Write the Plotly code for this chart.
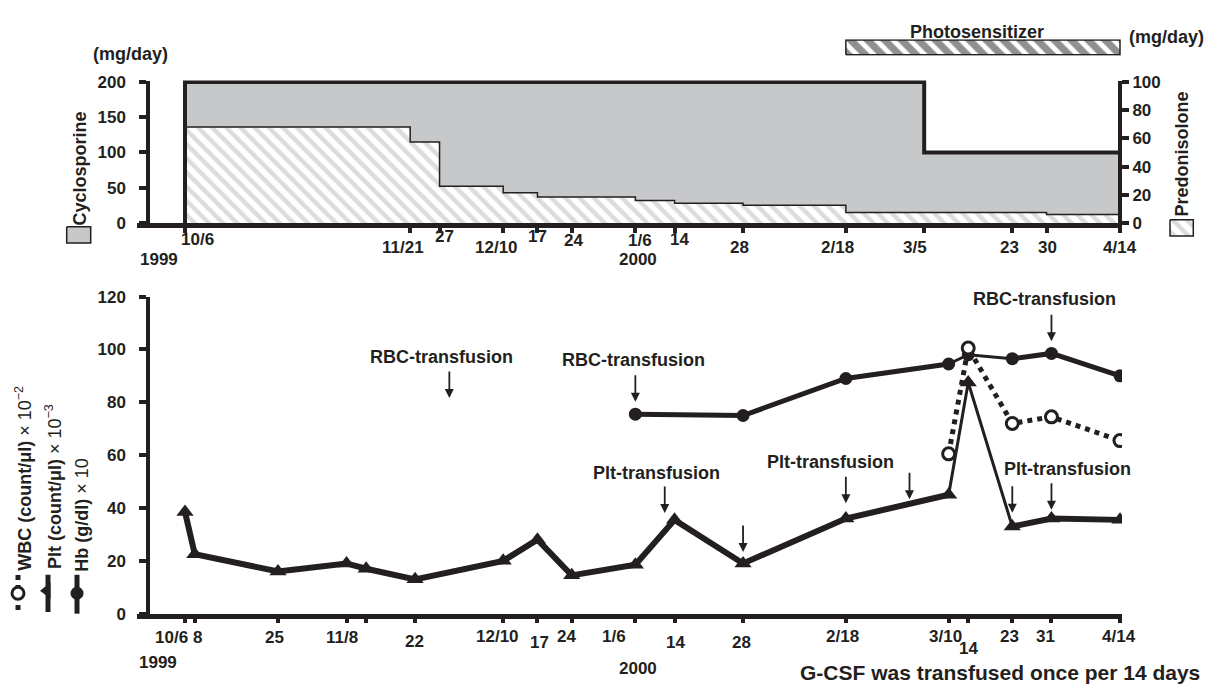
import plotly.graph_objects as go

W, H = 1212, 694
INK = "#231f20"
GRAY = "#c7c8ca"
FAM = "Liberation Sans"

# ---------------- data ----------------
# top panel: daily doses (step changes)
cyclo_start = ["1999-10-06", "2000-03-05"]
cyclo_dose = [200, 100]                     # Cyclosporine, mg/day (left axis)
predo_start = ["1999-10-06", "1999-11-21", "1999-11-27", "1999-12-10", "1999-12-17",
               "2000-01-06", "2000-01-14", "2000-01-28", "2000-02-18", "2000-03-30"]
predo_dose = [68, 57.5, 26, 21.5, 18.5, 16, 14, 12.5, 7.5, 6]   # Predonisolone, mg/day (right axis)
treat_end = "2000-04-14"
photo_start = "2000-02-18"
photo_end = "2000-04-14"

top_ticks = ["1999-10-06", "1999-11-21", "1999-11-27", "1999-12-10", "1999-12-17", "1999-12-24",
             "2000-01-06", "2000-01-14", "2000-01-28", "2000-02-18", "2000-03-05", "2000-03-23",
             "2000-03-30", "2000-04-14"]
top_labels = ["10/6", "11/21", "27", "12/10", "17", "24", "1/6", "14", "28", "2/18", "3/5", "23", "30", "4/14"]

# bottom panel: blood counts
plt_dates = ["1999-10-06", "1999-10-08", "1999-10-25", "1999-11-08", "1999-11-12", "1999-11-22",
             "1999-12-10", "1999-12-17", "1999-12-24", "2000-01-06", "2000-01-14", "2000-01-28",
             "2000-02-18", "2000-03-10", "2000-03-14", "2000-03-23", "2000-03-31", "2000-04-14"]
plt_vals = [38.5, 22.5, 16, 19, 17, 13, 20, 28, 14.5, 18.5, 35.5, 19, 36, 45, 87.5, 33, 36, 35.5]

hb_dates = ["2000-01-06", "2000-01-28", "2000-02-18", "2000-03-10", "2000-03-14", "2000-03-23",
            "2000-03-31", "2000-04-14"]
hb_vals = [75.5, 75, 89, 94.5, 98, 96.5, 98.5, 90]

wbc_dates = ["2000-03-10", "2000-03-14", "2000-03-23", "2000-03-31", "2000-04-14"]
wbc_vals = [60.5, 100.5, 72, 74.5, 65.5]

bottom_ticks = ["1999-10-06", "1999-10-08", "1999-10-25", "1999-11-08", "1999-11-12", "1999-11-22",
                "1999-12-10", "1999-12-17", "1999-12-24", "2000-01-06", "2000-01-14", "2000-01-28",
                "2000-02-18", "2000-03-10", "2000-03-14", "2000-03-23", "2000-03-31", "2000-04-14"]
bottom_labels = ["10/6", "8", "25", "11/8", "", "22", "12/10", "17", "24", "1/6", "14", "28",
                 "2/18", "3/10", "14", "23", "31", "4/14"]

# transfusion events (arrow date, level the arrow points to)
rbc_dates = ["1999-11-29", "2000-01-06", "2000-03-31"]
rbc_levels = [81.6, 80.2, 103.1]
plt_tf_dates = ["2000-01-12", "2000-01-28", "2000-02-18", "2000-03-02", "2000-03-23", "2000-03-31"]
plt_tf_levels = [38.1, 23.3, 41.8, 43.3, 38.2, 39.3]

# ---------------- layout helpers (positions, not data) ----------------
def pyf(p):  # pixel row -> paper fraction
    return 1 - p / H

def pxf(p):
    return p / W

XR = ["1999-09-26 04:40", "2000-04-14 09:50"]
XDOM = [pxf(137), pxf(1122)]
TOP_BOT, TOP_TOP = 220.0, 75.0 - 2 * 0.725
BOT_BOT, BOT_TOP = 621.7, 295.7

top_label_pos = [(12, 237.4), (-7, 245.3), (5, 234), (-7, 245.3), (0, 234), (2, 238.4), (5, 238.4),
                 (5, 237.5), (-4, 245), (-8, 245), (-9, 245), (-3, 245), (1, 245), (0, 245)]
bottom_label_pos = [(-14, 645.7), (3, 645.7), (-4, 645.7), (-5, 645.7), (0, 645), (-1, 650), (-6, 645),
                    (2, 651), (-5, 645), (-21, 645), (1, 651), (-2, 651), (-3, 645), (-3, 645),
                    (0, 657.7), (-3, 645), (-6, 645), (-1, 645)]


def steps(starts, vals, end):
    xs, ys = [starts[0]], [0]
    for i, (s, v) in enumerate(zip(starts, vals)):
        e = starts[i + 1] if i + 1 < len(starts) else end
        xs += [s, e]
        ys += [v, v]
    return xs, ys


fig = go.Figure()

PREDO_PAT = dict(shape="\\", fgcolor="#b9b9b9", bgcolor="white", size=10, solidity=0.45)

# ---- top panel ----
cx, cy = steps(cyclo_start, cyclo_dose, treat_end)
px_, py_ = steps(predo_start, predo_dose, treat_end)

fig.add_trace(go.Scatter(x=cx, y=cy, mode="lines", line=dict(width=0, color=GRAY), fill="tozeroy",
                         fillcolor=GRAY, xaxis="x", yaxis="y", hoverinfo="skip"))
fig.add_trace(go.Scatter(x=px_, y=py_, mode="lines", line=dict(color=INK, width=1.5), fill="tozeroy",
                         fillpattern=PREDO_PAT, xaxis="x", yaxis="y2", hoverinfo="skip"))
fig.add_trace(go.Scatter(x=cx, y=cy, mode="lines", line=dict(color=INK, width=4),
                         xaxis="x", yaxis="y6", hoverinfo="skip"))

# photosensitizer bar
fig.add_trace(go.Scatter(x=[photo_start, photo_end, photo_end, photo_start, photo_start],
                         y=[0, 0, 1, 1, 0], mode="lines", line=dict(color=INK, width=1.5),
                         fill="toself", fillpattern=dict(shape="\\", fgcolor=INK, bgcolor="white", size=12, solidity=0.6),
                         xaxis="x", yaxis="y3", hoverinfo="skip"))

# ---- bottom panel ----
def split(dates, vals, a, b):
    i, j = dates.index(a), dates.index(b)
    thick_x = dates[:i + 1] + [None] + dates[j:]
    thick_y = vals[:i + 1] + [None] + vals[j:]
    return thick_x, thick_y, dates[i:j + 1], vals[i:j + 1]

hx, hy, hxt, hyt = split(hb_dates, hb_vals, "2000-03-10", "2000-03-23")
fig.add_trace(go.Scatter(x=hx, y=hy, mode="lines", line=dict(color=INK, width=5), connectgaps=False,
                         xaxis="x2", yaxis="y4"))
fig.add_trace(go.Scatter(x=hxt, y=hyt, mode="lines", line=dict(color=INK, width=3),
                         xaxis="x2", yaxis="y4"))
fig.add_trace(go.Scatter(x=hb_dates, y=hb_vals, mode="markers", marker=dict(symbol="circle", size=13, color=INK),
                         xaxis="x2", yaxis="y4"))

tx, ty, txt, tyt = split(plt_dates, plt_vals, "2000-03-10", "2000-03-23")
fig.add_trace(go.Scatter(x=tx, y=ty, mode="lines", line=dict(color=INK, width=6), connectgaps=False,
                         xaxis="x2", yaxis="y4"))
fig.add_trace(go.Scatter(x=txt, y=tyt, mode="lines", line=dict(color=INK, width=3),
                         xaxis="x2", yaxis="y4"))
fig.add_trace(go.Scatter(x=plt_dates, y=plt_vals, mode="markers",
                         marker=dict(symbol="triangle-up", size=15, color=INK),
                         xaxis="x2", yaxis="y4"))

fig.add_trace(go.Scatter(x=wbc_dates, y=wbc_vals, mode="lines+markers",
                         line=dict(color=INK, width=5, dash="dot"),
                         marker=dict(symbol="circle", size=12, color="white", line=dict(color=INK, width=3)),
                         xaxis="x2", yaxis="y4"))

# ---- legend glyphs (pixel overlay) ----
def ov(**kw):
    kw.update(xaxis="x3", yaxis="y5", hoverinfo="skip", cliponaxis=False)
    return go.Scatter(**kw)

fig.add_trace(ov(x=[18, 18], y=[582, 620], mode="lines", line=dict(color=INK, width=5, dash="dot")))
fig.add_trace(ov(x=[18], y=[600.7], mode="markers",
                 marker=dict(symbol="circle", size=12, color="white", line=dict(color=INK, width=3))))
fig.add_trace(ov(x=[48, 48], y=[581.7, 620], mode="lines", line=dict(color=INK, width=5)))
fig.add_trace(ov(x=[47], y=[598], mode="markers", marker=dict(symbol="triangle-left", size=14, color=INK)))
fig.add_trace(ov(x=[77, 77], y=[581.7, 621.7], mode="lines", line=dict(color=INK, width=5)))
fig.add_trace(ov(x=[77], y=[600.7], mode="markers", marker=dict(symbol="circle", size=13, color=INK)))
fig.add_trace(ov(x=[66.7, 90.7, 90.7, 66.7, 66.7], y=[224, 224, 240.7, 240.7, 224], mode="lines",
                 fill="toself", fillcolor=GRAY, line=dict(color=INK, width=1.5)))
fig.add_trace(ov(x=[1170, 1193.3, 1193.3, 1170, 1170], y=[216.7, 216.7, 233.3, 233.3, 216.7], mode="lines",
                 fill="toself", fillpattern=PREDO_PAT, line=dict(color=INK, width=1.5)))

# ---------------- axes ----------------
TF = dict(family=FAM, size=17, color=INK, weight="bold")
common_y = dict(ticks="outside", ticklen=7, tickwidth=4, tickcolor=INK, showline=True, linewidth=4,
                linecolor=INK, showgrid=False, zeroline=False, tickfont=TF, fixedrange=True)
common_x = dict(type="date", range=XR, domain=XDOM, ticks="outside", ticklen=5, tickwidth=4, tickcolor=INK,
                showline=True, linewidth=4.5, linecolor=INK, showgrid=False, zeroline=False,
                showticklabels=False, fixedrange=True)

fig.update_layout(
    width=W, height=H, autosize=False, margin=dict(l=0, r=0, t=0, b=0, pad=0),
    paper_bgcolor="white", plot_bgcolor="rgba(0,0,0,0)", showlegend=False,
    xaxis=dict(common_x, anchor="y", tickvals=top_ticks),
    xaxis2=dict(common_x, anchor="y4", tickvals=bottom_ticks),
    xaxis3=dict(domain=[0, 1], range=[0, W], anchor="y5", visible=False, fixedrange=True),
    yaxis=dict(common_y, domain=[pyf(TOP_BOT), pyf(TOP_TOP)], range=[0, 202], anchor="free",
               position=pxf(148.3), tickvals=[0, 50, 100, 150, 200], ticklabelstandoff=10),
    yaxis2=dict(common_y, range=[0, 101], overlaying="y", side="right", anchor="free",
                position=pxf(1120), tickvals=[0, 20, 40, 60, 80, 100]),
    yaxis3=dict(domain=[pyf(48), pyf(31)], range=[-1 / 15, 1 + 1 / 15], anchor="x", visible=False,
                fixedrange=True),
    yaxis4=dict(common_y, domain=[pyf(BOT_BOT), pyf(BOT_TOP)], range=[0, 120], anchor="free",
                position=pxf(148.3), tickvals=[0, 20, 40, 60, 80, 100, 120], ticklabelstandoff=10),
    yaxis5=dict(domain=[0, 1], range=[H, 0], anchor="x3", visible=False, fixedrange=True),
    yaxis6=dict(range=[0, 202], overlaying="y", visible=False, fixedrange=True),
)

# ---------------- annotations ----------------
ann = []


def lab(text, x, y, xref="paper", xshift=0, size=17, weight="bold", angle=0):
    ann.append(dict(text=text, x=x, y=pyf(y), xref=xref, yref="paper", xshift=xshift, showarrow=False,
                    xanchor="center", yanchor="middle", textangle=angle,
                    font=dict(family=FAM, size=size, color=INK, weight=weight)))


for d, t, (dx, yy) in zip(top_ticks, top_labels, top_label_pos):
    if t:
        lab(t, d, yy, xref="x", xshift=dx)
for d, t, (dx, yy) in zip(bottom_ticks, bottom_labels, bottom_label_pos):
    if t:
        lab(t, d, yy, xref="x2", xshift=dx)

lab("1999", pxf(159.3), 258)
lab("2000", "2000-01-06", 258, xref="x", xshift=3)
lab("1999", pxf(158.3), 671.7)
lab("2000", "2000-01-06", 678.3, xref="x2", xshift=3)

lab("(mg/day)", pxf(130), 46.7, size=18)
lab("(mg/day)", pxf(1166.7), 28.3, size=18)
lab("Photosensitizer", pxf(977.3), 23.3, size=18)
lab("Cyclosporine", pxf(80), 164, size=18, angle=-90)
lab("Predonisolone", pxf(1181.7), 149, size=18, angle=-90)

lab("<b>WBC (count/μl)</b> × 10<sup>−2</sup>", pxf(24), 483, size=18, weight="normal", angle=-90)
lab("<b>Plt (count/μl)</b> × 10<sup>−3</sup>", pxf(53), 491.5, size=18, weight="normal", angle=-90)
lab("<b>Hb (g/dl)</b> × 10", pxf(82), 520, size=18, weight="normal", angle=-90)

lab("G-CSF was transfused once per 14 days", pxf(999.5), 682, size=21)

# transfusion arrows
for d, v in zip(rbc_dates, rbc_levels):
    ann.append(dict(text="", x=d, y=v, xref="x2", yref="y4", showarrow=True, ax=0, ay=-28,
                    arrowhead=2, arrowsize=1, arrowwidth=1.8, arrowcolor=INK))
for d, v in zip(plt_tf_dates, plt_tf_levels):
    ann.append(dict(text="", x=d, y=v, xref="x2", yref="y4", showarrow=True, ax=0, ay=-28,
                    arrowhead=2, arrowsize=1, arrowwidth=1.8, arrowcolor=INK))

lab("RBC-transfusion", rbc_dates[0], 358, xref="x2", xshift=-8, size=18)
lab("RBC-transfusion", rbc_dates[1], 361, xref="x2", xshift=-2, size=18)
lab("RBC-transfusion", rbc_dates[2], 298.3, xref="x2", xshift=-7, size=18)
lab("Plt-transfusion", plt_tf_dates[0], 476.7, xref="x2", xshift=-8, size=18)
lab("Plt-transfusion", plt_tf_dates[2], 465.7, xref="x2", xshift=-15, size=18)
lab("Plt-transfusion", plt_tf_dates[4], 473.3, xref="x2", xshift=55, size=18)

fig.update_layout(annotations=ann)

fig.write_html("out.html", config={"displayModeBar": False},
               post_script="document.body.style.margin='0';document.body.style.overflow='hidden';")
